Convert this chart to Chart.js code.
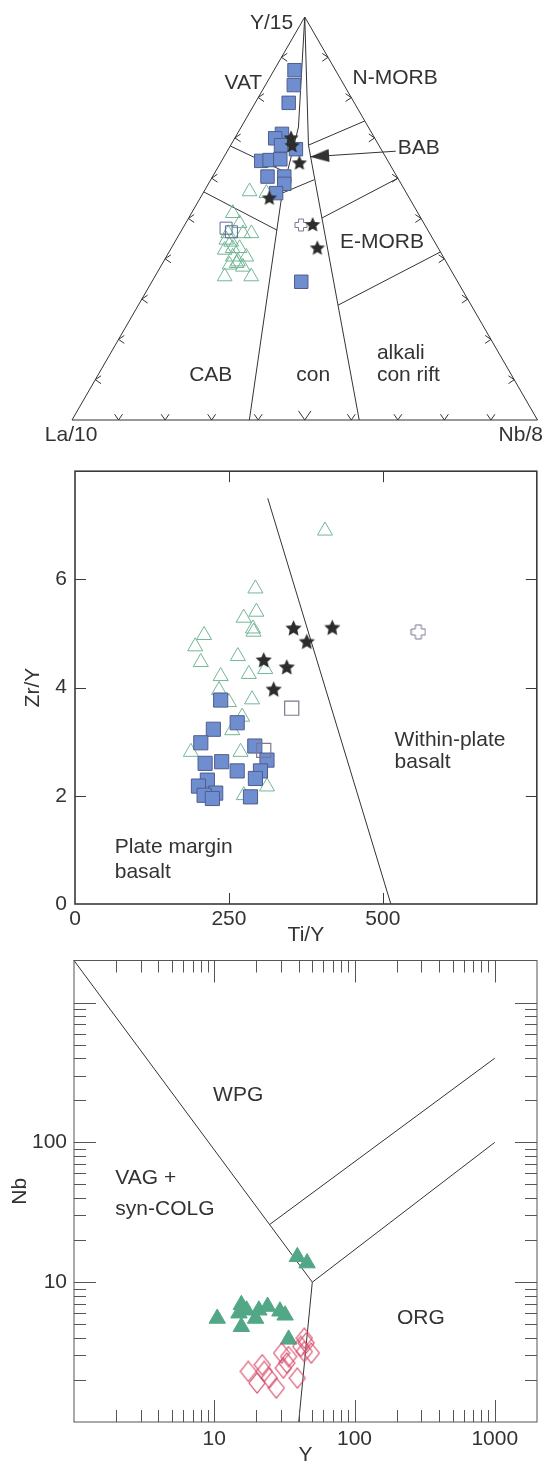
<!DOCTYPE html>
<html>
<head>
<meta charset="utf-8">
<script src="https://cdn.jsdelivr.net/npm/chart.js@4.4.1/dist/chart.umd.min.js"></script>
<style>
  html, body { margin: 0; padding: 0; background: #fff; overflow: hidden; }
  .plot { position: absolute; left: 0; }
</style>
</head>
<body>
<div class="plot" style="top:0"><canvas id="ternaryChart" width="548" height="460"></canvas></div>
<div class="plot" style="top:460px"><canvas id="zrTiChart" width="548" height="500"></canvas></div>
<div class="plot" style="top:950px"><canvas id="nbYChart" width="548" height="530"></canvas></div>
<script>
const FONT = '"Liberation Sans", Arial, sans-serif';
const INK = '#333';
const BLUE = '#6f8ed0';
const BLUE_EDGE = '#4f5d8c';
const GREEN_OPEN = '#74b696';
const STAR_INK = '#2c2c2c';
const OPEN_EDGE = '#7f7592';
const TEAL = '#52a787';
const ROSE = '#d8506e';

// ---- Ternary La/10 - Y/15 - Nb/8: samples as [Nb %, Y %], La/10 is the rest
const ternBlueSquares = [
    [4.4, 86.8], [6.1, 83.1], [7.2, 78.7], [9.6, 71.0], [8.7, 69.9], [10.8, 68.2],
    [14.5, 67.2], [8.5, 64.3], [10.2, 64.5], [12.4, 64.7], [11.8, 60.4], [15.4, 60.4],
    [16.3, 58.6], [15.7, 56.3], [32.1, 34.3]
];
const ternOpenSquares = [[9.3, 47.6], [10.9, 46.7]];
const ternTriangles = [
    [9.8, 56.7], [13.6, 56.3], [8.9, 51.3], [11.6, 48.8], [10.4, 46.3], [13.6, 46.3],
    [15.4, 46.3], [12.1, 44.2], [11.7, 42.2], [14.7, 42.6], [14.3, 40.5], [17.2, 40.5],
    [16.0, 39.3], [14.6, 38.5], [15.0, 35.6], [20.7, 35.6], [17.7, 38.0], [15.9, 38.9],
    [13.2, 42.6], [10.8, 44.7]
];
const ternStars = [[12.1, 69.9], [13.3, 68.0], [17.0, 63.7], [14.9, 55.0], [27.5, 48.4], [31.4, 42.6]];
const ternCross = [[25.0, 48.4]];
const ternEdgeTicks = [10, 20, 30, 40, 50, 60, 70, 80, 90];

// field boundaries, same [Nb %, Y %] units
const ternOutline = [[0, 0], [100, 0], [0, 100], [0, 0]];
const ternLineA = [[0, 100], [12.3, 72.7], [17.0, 56.3], [38.1, 0]];
const ternLineB = [[0, 100], [16.7, 68.2], [61.7, 0]];
const ternVatLine = [[0, 68], [15.6, 61.3]];
const ternCabLine = [[0, 56.6], [20.5, 47.1]];
const ternBabLine = [[17.0, 56.3], [22.2, 59.6]];
const ternNmorbLine = [[16.7, 68.2], [25.8, 74.2]];
const ternEmorbUpper = [[28.6, 50.1], [40, 60]];
const ternEmorbLower = [[42.9, 28.5], [58.3, 41.7]];
const ternBabArrow = [[36.2, 66.7], [18.5, 65.3]];

// ---- Zr/Y vs Ti/Y
const zrTiSquares = [
    [236.6, 3.77], [263.4, 3.35], [224.7, 3.23], [204.3, 2.98], [292, 2.92], [211.3, 2.60],
    [238.2, 2.63], [311.8, 2.66], [263.4, 2.46], [301.2, 2.46], [293, 2.32], [215, 2.29],
    [200.5, 2.18], [228.5, 2.05], [209.7, 2.01], [223.1, 1.95], [285, 1.98]
];
const zrTiTriangles = [
    [406, 6.90], [293, 5.83], [294.6, 5.40], [274, 5.29], [289, 5.09], [290, 5.03],
    [209.7, 4.97], [195.2, 4.76], [204.3, 4.47], [264.5, 4.58], [309, 4.34], [236.6, 4.21],
    [282.3, 4.25], [233.9, 3.95], [287.6, 3.78], [236.6, 3.73], [250, 3.73], [271.5, 3.46],
    [255.4, 3.21], [188.2, 2.81], [268.9, 2.81], [311.8, 2.17], [274.2, 2.01]
];
const zrTiOpenSquares = [[352, 3.62], [306.5, 2.84]];
const zrTiStars = [[354.9, 5.09], [417.8, 5.10], [376.4, 4.84], [306.5, 4.50], [344, 4.37], [322.6, 3.96]];
const zrTiCross = [[557.6, 5.03]];
const zrTiBoundary = [[313, 7.5], [513, 0]];
const zrTiXTicks = [0, 250, 500];
const zrTiYTicks = [0, 2, 4, 6];

// ---- Nb vs Y (log-log)
const nbYTriangles = [
    [39.1, 15.2], [45.9, 13.7], [10.5, 5.5], [15.6, 6.9], [15.0, 6.0], [15.6, 4.8],
    [20.8, 6.3], [24.0, 6.7], [19.7, 5.5], [29.4, 6.2], [32.0, 5.8], [33.9, 3.9], [17.0, 6.3]
];
const nbYDiamonds = [
    [17.5, 2.30], [20.2, 1.90], [22.0, 2.57], [22.7, 2.30], [24.7, 2.06], [27.7, 1.75],
    [30.2, 3.11], [31.1, 2.43], [33.9, 2.94], [39.1, 2.06], [43.9, 3.98], [45.2, 3.67],
    [43.9, 3.19], [49.2, 3.11], [41.4, 3.47], [32.9, 2.64]
];
const nbYWpgLine = [[1, 2000], [50, 10]];
const nbYOrgLine = [[50, 10], [1000, 100]];
const nbYUpperLine = [[25, 26], [1000, 400]];
const nbYVagLine = [[50, 10], [40, 1]];
const nbYXTicks = [10, 100, 1000];
const nbYYTicks = [10, 100];

// helpers
const toXY = pts => pts.map(([x, y]) => ({ x: x, y: y }));
const toTern = pts => pts.map(([nb, y]) => ({ x: nb + y / 2, y: y }));

function starImage(r, color) {
    const c = document.createElement('canvas');
    c.width = c.height = Math.ceil(r * 2 + 2);
    const g = c.getContext('2d');
    const m = c.width / 2;
    g.beginPath();
    for (let i = 0; i < 10; i++) {
        const rad = i % 2 ? r * 0.47 : r;
        const a = -Math.PI / 2 + i * Math.PI / 5;
        g.lineTo(m + rad * Math.cos(a), m + rad * Math.sin(a));
    }
    g.closePath();
    g.fillStyle = color;
    g.fill();
    return c;
}

function crossImage(s, arm, color) {
    const c = document.createElement('canvas');
    c.width = c.height = s + 2;
    const g = c.getContext('2d');
    const o = 1, a = (s - arm) / 2;
    g.beginPath();
    g.moveTo(o + a, o); g.lineTo(o + a + arm, o); g.lineTo(o + a + arm, o + a);
    g.lineTo(o + s, o + a); g.lineTo(o + s, o + a + arm); g.lineTo(o + a + arm, o + a + arm);
    g.lineTo(o + a + arm, o + s); g.lineTo(o + a, o + s); g.lineTo(o + a, o + a + arm);
    g.lineTo(o, o + a + arm); g.lineTo(o, o + a); g.lineTo(o + a, o + a);
    g.closePath();
    g.fillStyle = '#fff';
    g.fill();
    g.strokeStyle = color;
    g.lineWidth = 1;
    g.stroke();
    return c;
}

function diamondImage(w, h, color) {
    const c = document.createElement('canvas');
    c.width = w + 2;
    c.height = h + 2;
    const g = c.getContext('2d');
    g.beginPath();
    g.moveTo(1 + w / 2, 1); g.lineTo(1 + w, 1 + h / 2); g.lineTo(1 + w / 2, 1 + h); g.lineTo(1, 1 + h / 2);
    g.closePath();
    g.strokeStyle = color;
    g.lineWidth = 1.2;
    g.stroke();
    return c;
}

function arrowHeadImage(len, half, color) {
    // tip sits at the centre of the image, body extends to the right
    const c = document.createElement('canvas');
    c.width = len * 2;
    c.height = half * 2 + 2;
    const g = c.getContext('2d');
    g.beginPath();
    g.moveTo(len, half + 1); g.lineTo(len * 2, 1); g.lineTo(len * 2, half * 2 + 1);
    g.closePath();
    g.fillStyle = color;
    g.fill();
    return c;
}

function lineSet(data) {
    return {
        data: data, showLine: true, borderColor: INK, borderWidth: 1,
        pointRadius: 0, tension: 0, clip: false, order: 20
    };
}

function textLabels(items) {
    return {
        id: 'textLabels',
        afterDraw(chart) {
            const { ctx, scales: { x, y } } = chart;
            ctx.save();
            ctx.fillStyle = INK;
            ctx.font = '21px ' + FONT;
            ctx.textBaseline = 'middle';
            items.forEach(t => {
                ctx.textAlign = t.align || 'center';
                ctx.fillText(t.text, x.getPixelForValue(t.x), y.getPixelForValue(t.y));
            });
            ctx.restore();
        }
    };
}

function frameTicks(xMarks, yMarks, frameWidth, color) {
    return {
        id: 'frameTicks',
        afterDatasetsDraw(chart) {
            const { ctx, chartArea: a, scales: { x, y } } = chart;
            ctx.save();
            ctx.strokeStyle = color;
            ctx.lineWidth = frameWidth;
            ctx.strokeRect(a.left, a.top, a.right - a.left, a.bottom - a.top);
            ctx.lineWidth = 1;
            ctx.beginPath();
            xMarks.forEach(([v, len]) => {
                const px = Math.round(x.getPixelForValue(v)) + 0.5;
                ctx.moveTo(px, a.bottom); ctx.lineTo(px, a.bottom - len);
                ctx.moveTo(px, a.top); ctx.lineTo(px, a.top + len);
            });
            yMarks.forEach(([v, len]) => {
                const py = Math.round(y.getPixelForValue(v)) + 0.5;
                ctx.moveTo(a.left, py); ctx.lineTo(a.left + len, py);
                ctx.moveTo(a.right, py); ctx.lineTo(a.right - len, py);
            });
            ctx.stroke();
            ctx.restore();
        }
    };
}

const ternEdgeTickPlugin = {
    id: 'ternEdgeTicks',
    afterDatasetsDraw(chart) {
        const { ctx, scales: { x, y } } = chart;
        const at = (nb, yy) => [x.getPixelForValue(nb + yy / 2), y.getPixelForValue(yy)];
        const chevron = ([cx, cy], dir, len) => {
            [-0.6, 0.6].forEach(s => {
                const ang = dir + s;
                ctx.moveTo(cx, cy);
                ctx.lineTo(cx + Math.cos(ang) * len, cy + Math.sin(ang) * len);
            });
        };
        ctx.save();
        ctx.strokeStyle = INK;
        ctx.lineWidth = 1;
        ctx.beginPath();
        ternEdgeTicks.forEach(v => {
            chevron(at(v, 0), -Math.PI / 2, v === 50 ? 11 : 7);   // La/10 - Nb/8 edge
            chevron(at(0, v), 0, 7);                              // La/10 - Y/15 edge
            chevron(at(100 - v, v), Math.PI, 7);                  // Nb/8 - Y/15 edge
        });
        ctx.stroke();
        ctx.restore();
    }
};

const baseOptions = () => ({
    responsive: false,
    animation: false,
    events: [],
    plugins: { legend: { display: false }, tooltip: { enabled: false } }
});

const tickFont = { size: 21, family: FONT };
const noPad = s => { s.paddingTop = 0; s.paddingBottom = 0; s.paddingLeft = 0; s.paddingRight = 0; };

// ---------- Chart 1: ternary ----------
new Chart(document.getElementById('ternaryChart'), {
    type: 'scatter',
    data: {
        datasets: [
            lineSet(toTern(ternOutline)),
            lineSet(toTern(ternLineA)),
            lineSet(toTern(ternLineB)),
            lineSet(toTern(ternVatLine)),
            lineSet(toTern(ternCabLine)),
            lineSet(toTern(ternBabLine)),
            lineSet(toTern(ternNmorbLine)),
            lineSet(toTern(ternEmorbUpper)),
            lineSet(toTern(ternEmorbLower)),
            lineSet(toTern(ternBabArrow)),
            {
                data: toTern(ternBabArrow.slice(1)), pointStyle: arrowHeadImage(19, 6.5, INK),
                pointRotation: -4, pointRadius: 5, order: 19
            },
            {
                data: toTern(ternTriangles), pointStyle: 'triangle', pointRadius: 8.5,
                backgroundColor: 'rgba(0,0,0,0)', borderColor: GREEN_OPEN, borderWidth: 1, order: 6
            },
            {
                data: toTern(ternOpenSquares), pointStyle: 'rect', pointRadius: 8.5,
                backgroundColor: 'rgba(0,0,0,0)', borderColor: '#5d6b98', borderWidth: 1, order: 5
            },
            {
                data: toTern(ternBlueSquares), pointStyle: 'rect', pointRadius: 9.5,
                backgroundColor: BLUE, borderColor: BLUE_EDGE, borderWidth: 1, order: 4
            },
            { data: toTern(ternCross), pointStyle: crossImage(12, 5, OPEN_EDGE), pointRadius: 5, order: 3 },
            { data: toTern(ternStars), pointStyle: starImage(8, STAR_INK), pointRadius: 5, order: 2 }
        ]
    },
    options: Object.assign(baseOptions(), {
        layout: { padding: { left: 72, right: 9, top: 17, bottom: 40 } },
        scales: {
            x: { type: 'linear', min: 0, max: 100, display: false },
            y: { type: 'linear', min: 0, max: 100, display: false }
        }
    }),
    plugins: [ternEdgeTickPlugin, textLabels([
        { text: 'Y/15', x: 47.5, y: 98.5, align: 'right' },
        { text: 'VAT', x: 36.8, y: 83.6 },
        { text: 'N-MORB', x: 69.4, y: 84.9 },
        { text: 'BAB', x: 70.0, y: 67.5, align: 'left' },
        { text: 'E-MORB', x: 66.6, y: 44.2 },
        { text: 'CAB', x: 29.8, y: 11.2 },
        { text: 'con', x: 51.8, y: 11.2 },
        { text: 'alkali', x: 65.5, y: 16.6, align: 'left' },
        { text: 'con rift', x: 65.5, y: 11.2, align: 'left' },
        { text: 'La/10', x: -0.2, y: -3.7 },
        { text: 'Nb/8', x: 96.4, y: -3.7 }
    ])]
});

// ---------- Chart 2: Zr/Y vs Ti/Y ----------
new Chart(document.getElementById('zrTiChart'), {
    type: 'scatter',
    data: {
        datasets: [
            lineSet(toXY(zrTiBoundary)),
            {
                data: toXY(zrTiTriangles), pointStyle: 'triangle', pointRadius: 8.7,
                backgroundColor: 'rgba(0,0,0,0)', borderColor: GREEN_OPEN, borderWidth: 1, order: 6
            },
            {
                data: toXY(zrTiSquares), pointStyle: 'rect', pointRadius: 10,
                backgroundColor: BLUE, borderColor: BLUE_EDGE, borderWidth: 1, order: 4
            },
            {
                data: toXY(zrTiOpenSquares), pointStyle: 'rect', pointRadius: 10,
                backgroundColor: 'rgba(0,0,0,0)', borderColor: OPEN_EDGE, borderWidth: 1.2, order: 3
            },
            { data: toXY(zrTiCross), pointStyle: crossImage(14, 6, OPEN_EDGE), pointRadius: 5, order: 3 },
            { data: toXY(zrTiStars), pointStyle: starImage(8.5, STAR_INK), pointRadius: 5, order: 2 }
        ]
    },
    options: Object.assign(baseOptions(), {
        layout: { padding: { left: 0, right: 8, top: 11, bottom: 0 } },
        scales: {
            x: {
                type: 'linear', min: 0, max: 750,
                grid: { display: false, drawTicks: false }, border: { display: false },
                afterBuildTicks: s => { s.ticks = zrTiXTicks.map(v => ({ value: v })); },
                afterFit: s => { s.height = 56; noPad(s); },
                ticks: { font: tickFont, color: INK, padding: 3, maxRotation: 0, autoSkip: false },
                title: { display: true, text: 'Ti/Y', font: tickFont, color: INK, padding: { top: 0, bottom: 12.4 } }
            },
            y: {
                type: 'linear', min: 0, max: 8,
                grid: { display: false, drawTicks: false }, border: { display: false },
                afterBuildTicks: s => { s.ticks = zrTiYTicks.map(v => ({ value: v })); },
                afterFit: s => { s.width = 75; noPad(s); },
                ticks: { font: tickFont, color: INK, padding: 8, autoSkip: false },
                title: { display: true, text: 'Zr/Y', font: tickFont, color: INK, padding: { top: 21, bottom: 0 } }
            }
        }
    }),
    plugins: [
        frameTicks([[250, 11], [500, 11]], [[2, 11], [4, 11], [6, 11]], 1.6, '#3a3a3a'),
        textLabels([
            { text: 'Within-plate', x: 519, y: 3.03, align: 'left' },
            { text: 'basalt', x: 519, y: 2.62, align: 'left' },
            { text: 'Plate margin', x: 64.5, y: 1.05, align: 'left' },
            { text: 'basalt', x: 64.5, y: 0.59, align: 'left' }
        ])
    ]
});

// ---------- Chart 3: Nb vs Y ----------
const logMarks = [];
[1, 10, 100, 1000].forEach(d => {
    for (let m = 1; m <= 9; m++) {
        const v = d * m;
        if (v > 1 && v < 2000) logMarks.push([v, m === 1 ? 22 : 12]);
    }
});

new Chart(document.getElementById('nbYChart'), {
    type: 'scatter',
    data: {
        datasets: [
            lineSet(toXY(nbYWpgLine)),
            lineSet(toXY(nbYOrgLine)),
            lineSet(toXY(nbYUpperLine)),
            lineSet(toXY(nbYVagLine)),
            {
                data: toXY(nbYTriangles), pointStyle: 'triangle', pointRadius: 9.5,
                backgroundColor: TEAL, borderColor: TEAL, borderWidth: 1, order: 3
            },
            { data: toXY(nbYDiamonds), pointStyle: diamondImage(16, 20, ROSE), pointRadius: 5, order: 2 }
        ]
    },
    options: Object.assign(baseOptions(), {
        layout: { padding: { left: 0, right: 11, top: 10, bottom: 0 } },
        scales: {
            x: {
                type: 'logarithmic', min: 1, max: 2000,
                grid: { display: false, drawTicks: false }, border: { display: false },
                afterBuildTicks: s => { s.ticks = nbYXTicks.map(v => ({ value: v })); },
                afterFit: s => { s.height = 58; noPad(s); },
                ticks: { font: tickFont, color: INK, padding: 5, maxRotation: 0, autoSkip: false, callback: v => String(v) },
                title: { display: true, text: 'Y', font: tickFont, color: INK, padding: { top: 0, bottom: 12.4 } }
            },
            y: {
                type: 'logarithmic', min: 1, max: 2000,
                grid: { display: false, drawTicks: false }, border: { display: false },
                afterBuildTicks: s => { s.ticks = nbYYTicks.map(v => ({ value: v })); },
                afterFit: s => { s.width = 74; noPad(s); },
                ticks: { font: tickFont, color: INK, padding: 7, autoSkip: false, callback: v => String(v) },
                title: { display: true, text: 'Nb', font: tickFont, color: INK, padding: { top: 8, bottom: 0 } }
            }
        }
    }),
    plugins: [
        frameTicks(logMarks, logMarks, 1, '#555'),
        textLabels([
            { text: 'WPG', x: 14.8, y: 219 },
            { text: 'VAG +', x: 1.97, y: 55, align: 'left' },
            { text: 'syn-COLG', x: 1.97, y: 33.2, align: 'left' },
            { text: 'ORG', x: 297, y: 5.55 }
        ])
    ]
});
</script>
</body>
</html>
